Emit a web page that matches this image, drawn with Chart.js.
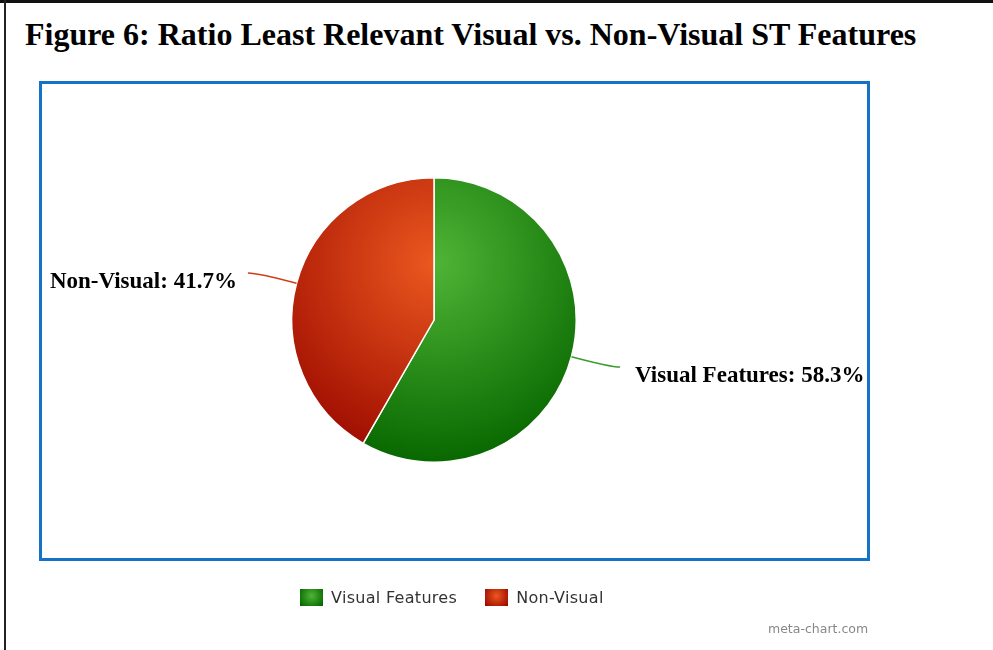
<!DOCTYPE html>
<html>
<head>
<meta charset="utf-8">
<script src="https://cdn.jsdelivr.net/npm/chart.js@4"></script>
<style>
  html,body{margin:0;padding:0;background:#fff;}
  #page{position:relative;width:993px;height:650px;overflow:hidden;}
  #edgeTop{position:absolute;left:0;top:0;width:993px;height:3px;background:#111;}
  #edgeLeft{position:absolute;left:4px;top:0;width:2px;height:650px;background:#222;}
  #title{position:absolute;left:25px;top:16px;font-family:"Liberation Serif","Times New Roman",serif;font-weight:bold;font-size:32px;color:#000;white-space:nowrap;}
  #frame{position:absolute;left:39px;top:81px;width:825px;height:474px;border:3px solid #1473c6;}
  #pie{position:absolute;left:0;top:0;}
  #legend{position:absolute;left:300px;top:588px;display:flex;font-family:"DejaVu Sans",sans-serif;font-size:16px;letter-spacing:0.3px;color:#333;}
  .leg{display:flex;align-items:center;margin-right:28px;}
  .leg-sq{width:23px;height:17px;margin-right:8px;}
  #credit{position:absolute;left:768px;top:621px;font-family:"DejaVu Sans",sans-serif;font-size:12.5px;color:#888;}
</style>
</head>
<body>
<div id="page">
  <div id="edgeTop"></div>
  <div id="edgeLeft"></div>
  <div id="title">Figure 6: Ratio Least Relevant Visual vs. Non-Visual ST Features</div>
  <div id="frame"></div>
  <canvas id="pie" width="993" height="650"></canvas>
  <div id="legend"></div>
  <div id="credit">meta-chart.com</div>
</div>
<script>
const labels = ['Visual Features', 'Non-Visual'];
const values = [58.3, 41.7];
const lightColors = ['#4fb536', '#ec581f'];
const darkColors  = ['#086800', '#9e0c00'];
const lineColors  = ['#3c9c2a', '#cf3d18'];

// Legend
document.getElementById('legend').innerHTML = labels.map((l,i)=>
  `<div class="leg"><div class="leg-sq" style="background:radial-gradient(circle at 50% 40%, ${lightColors[i]}, ${darkColors[i]} 90%)"></div><span>${l}</span></div>`
).join('');

// Shaded slice fill: radial gradient lit from above the centre
function sliceFill(c){
  const chart = c.chart;
  const area = chart.chartArea;
  if(!area) return lightColors[c.dataIndex];
  const cx = (area.left+area.right)/2, cy = (area.top+area.bottom)/2;
  const r = Math.min(area.right-area.left, area.bottom-area.top)/2;
  const g = chart.ctx.createRadialGradient(cx, cy-0.4*r, 0, cx, cy-0.4*r, 1.4*r);
  g.addColorStop(0, lightColors[c.dataIndex]);
  g.addColorStop(1, darkColors[c.dataIndex]);
  return g;
}

// Outside labels with curved leader lines
const leaderLabels = {
  id:'leaderLabels',
  afterDatasetsDraw(chart){
    const ctx = chart.ctx;
    const meta = chart.getDatasetMeta(0);
    const total = values.reduce((a,b)=>a+b,0);
    meta.data.forEach((arc,i)=>{
      const {x,y,startAngle,endAngle,outerRadius} = arc.getProps(['x','y','startAngle','endAngle','outerRadius'],true);
      const mid = (startAngle+endAngle)/2;
      const cos = Math.cos(mid), sin = Math.sin(mid);
      const px = x+cos*outerRadius, py = y+sin*outerRadius;
      const ex = px+cos*40, ey = py+sin*40;
      const side = cos>=0?1:-1;
      const tx = ex+side*10, ty = ey;
      ctx.save();
      ctx.strokeStyle = lineColors[i];
      ctx.lineWidth = 1.5;
      ctx.beginPath();
      ctx.moveTo(px,py);
      ctx.quadraticCurveTo(ex,ey,tx,ty);
      ctx.stroke();
      ctx.font = 'bold 23px "Liberation Serif","Times New Roman",serif';
      ctx.fillStyle = '#000';
      ctx.textBaseline = 'alphabetic';
      ctx.textAlign = side>0?'left':'right';
      const pct = (values[i]/total*100).toFixed(1);
      ctx.fillText(`${labels[i]}: ${pct}%`, tx+(side>0?15:-11), ty+15);
      ctx.restore();
    });
  }
};

new Chart(document.getElementById('pie').getContext('2d'),{
  type:'pie',
  data:{labels, datasets:[{data:values, backgroundColor:sliceFill, borderColor:'#fff', borderWidth:1.5}]},
  options:{
    responsive:false, animation:false, devicePixelRatio:1,
    layout:{padding:{left:291,right:416,top:177,bottom:187}},
    plugins:{legend:{display:false},tooltip:{enabled:false}}
  },
  plugins:[leaderLabels]
});
</script>
</body>
</html>
